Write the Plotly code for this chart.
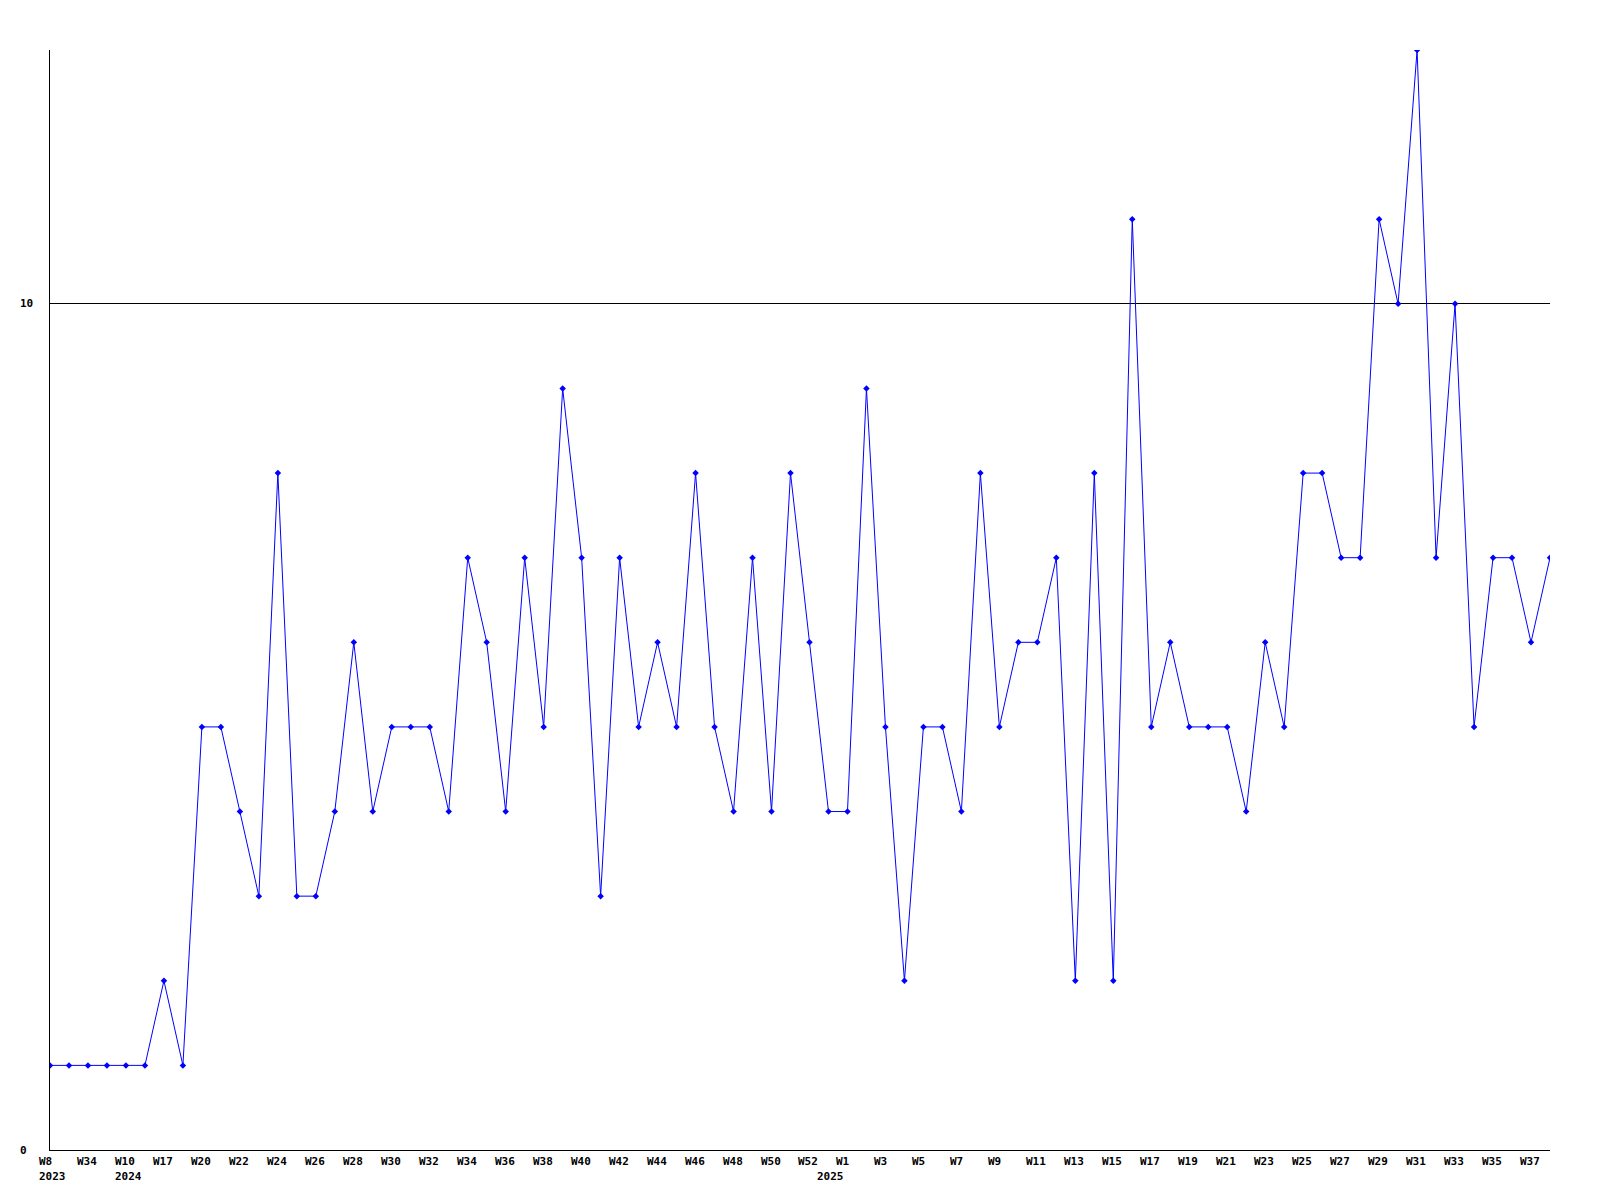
import plotly.graph_objects as go

weeks = [
    "2023-W08", "2023-W33", "2023-W34", "2024-W09", "2024-W10", "2024-W16",
    "2024-W17", "2024-W19", "2024-W20", "2024-W21", "2024-W22", "2024-W23",
    "2024-W24", "2024-W25", "2024-W26", "2024-W27", "2024-W28", "2024-W29",
    "2024-W30", "2024-W31", "2024-W32", "2024-W33", "2024-W34", "2024-W35",
    "2024-W36", "2024-W37", "2024-W38", "2024-W39", "2024-W40", "2024-W41",
    "2024-W42", "2024-W43", "2024-W44", "2024-W45", "2024-W46", "2024-W47",
    "2024-W48", "2024-W49", "2024-W50", "2024-W51", "2024-W52", "2025-W00",
    "2025-W01", "2025-W02", "2025-W03", "2025-W04", "2025-W05", "2025-W06",
    "2025-W07", "2025-W08", "2025-W09", "2025-W10", "2025-W11", "2025-W12",
    "2025-W13", "2025-W14", "2025-W15", "2025-W16", "2025-W17", "2025-W18",
    "2025-W19", "2025-W20", "2025-W21", "2025-W22", "2025-W23", "2025-W24",
    "2025-W25", "2025-W26", "2025-W27", "2025-W28", "2025-W29", "2025-W30",
    "2025-W31", "2025-W32", "2025-W33", "2025-W34", "2025-W35", "2025-W36",
    "2025-W37", "2025-W38",
]

counts = [
    1, 1, 1, 1, 1, 1, 2, 1, 5, 5,
    4, 3, 8, 3, 3, 4, 6, 4, 5, 5,
    5, 4, 7, 6, 4, 7, 5, 9, 7, 3,
    7, 5, 6, 5, 8, 5, 4, 7, 4, 8,
    6, 4, 4, 9, 5, 2, 5, 5, 4, 8,
    5, 6, 6, 7, 2, 8, 2, 11, 5, 6,
    5, 5, 5, 4, 6, 5, 8, 8, 7, 7,
    11, 10, 13, 7, 10, 5, 7, 7, 6, 7,
]

# every other week gets a label
week_ticks = [
    "W8", "W34", "W10", "W17", "W20", "W22", "W24", "W26", "W28", "W30",
    "W32", "W34", "W36", "W38", "W40", "W42", "W44", "W46", "W48", "W50",
    "W52", "W1", "W3", "W5", "W7", "W9", "W11", "W13", "W15", "W17",
    "W19", "W21", "W23", "W25", "W27", "W29", "W31", "W33", "W35", "W37",
]
year_ticks = {"2023-W08": "2023", "2024-W10": "2024", "2025-W00": "2025"}

y_ticks = [0, 10]

font = dict(family="DejaVu Sans Mono", size=11, color="black", weight="bold")

fig = go.Figure()

fig.add_trace(go.Scatter(
    x=weeks,
    y=counts,
    mode="lines+markers",
    line=dict(color="#0000ff", width=1),
    marker=dict(color="#0000ff", size=5, symbol="diamond"),
    hoverinfo="x+y",
))

annotations = []
for cat, label in zip(weeks[::2], week_ticks):
    annotations.append(dict(
        x=cat, xref="x", y=0, yref="paper",
        text=label, showarrow=False, font=font,
        xanchor="left", yanchor="top", xshift=-13, yshift=-3,
    ))
for cat, label in year_ticks.items():
    annotations.append(dict(
        x=cat, xref="x", y=0, yref="paper",
        text=label, showarrow=False, font=font,
        xanchor="left", yanchor="top", xshift=-13, yshift=-18,
    ))
for v in y_ticks:
    annotations.append(dict(
        x=0, xref="paper", y=v, yref="y",
        text=str(v), showarrow=False, font=font,
        xanchor="left", yanchor="middle", xshift=-32,
    ))

# the page body adds 8px, so pull the margins in to compensate
fig.update_layout(
    width=1600,
    height=1200,
    plot_bgcolor="white",
    paper_bgcolor="white",
    showlegend=False,
    margin=dict(l=42, r=58, t=42, b=58),
    annotations=annotations,
    xaxis=dict(
        type="category",
        range=[0, len(weeks) - 1],
        showgrid=False,
        showticklabels=False,
        ticks="",
        showline=True,
        linecolor="black",
        linewidth=1,
        zeroline=False,
    ),
    yaxis=dict(
        range=[0, 13],
        tickvals=y_ticks,
        showticklabels=False,
        showgrid=True,
        gridcolor="black",
        gridwidth=1,
        showline=True,
        linecolor="black",
        linewidth=1,
        zeroline=False,
        ticks="",
    ),
)

fig.write_html("out.html")
